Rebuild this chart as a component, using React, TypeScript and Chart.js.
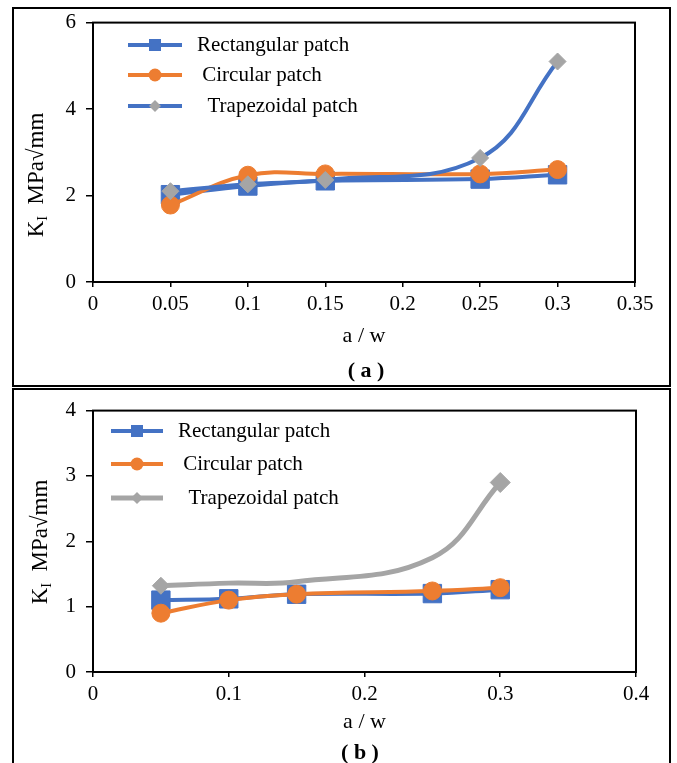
import React, { useEffect, useRef } from "react";
import { Chart, registerables } from "chart.js";

Chart.register(...registerables);

// ---------- data ----------
const X_A = [0.05, 0.1, 0.15, 0.25, 0.3];
const RECT_A = [2.02, 2.22, 2.34, 2.38, 2.48];
const CIRC_A = [1.78, 2.47, 2.5, 2.5, 2.6];
const TRAP_A = [2.1, 2.26, 2.36, 2.87, 5.1];

const X_B = [0.05, 0.1, 0.15, 0.25, 0.3];
const RECT_B = [1.1, 1.12, 1.19, 1.2, 1.26];
const CIRC_B = [0.9, 1.1, 1.19, 1.24, 1.29];
const TRAP_B = [1.32, 1.36, 1.38, 1.75, 2.9];

const X_TICKS_A = [0, 0.05, 0.1, 0.15, 0.2, 0.25, 0.3, 0.35];
const Y_TICKS_A = [0, 2, 4, 6];
const X_TICKS_B = [0, 0.1, 0.2, 0.3, 0.4];
const Y_TICKS_B = [0, 1, 2, 3, 4];

const SERIES_LABELS = ["Rectangular patch", " Circular patch", "  Trapezoidal patch"];
const X_TITLE = "a / w";
const CAPTIONS = ["( a )", "( b )"];

const FONT = "'Times New Roman', 'Liberation Serif', serif";
const BLUE = "#4472C4";
const ORANGE = "#ED7D31";
const GRAY = "#A5A5A5";

// ---------- plugins ----------
const framePlugin = {
  id: "frame",
  beforeDatasetsDraw(chart: any) {
    const { ctx, chartArea } = chart;
    ctx.save();
    ctx.strokeStyle = "#000";
    ctx.lineWidth = 2;
    ctx.strokeRect(chartArea.left, chartArea.top, chartArea.right - chartArea.left, chartArea.bottom - chartArea.top);
    ctx.restore();
  },
};

function drawMarker(ctx: CanvasRenderingContext2D, style: string, x: number, y: number, r: number, color: string) {
  ctx.fillStyle = color;
  ctx.beginPath();
  if (style === "rect") {
    const s = r * Math.SQRT1_2;
    ctx.rect(x - s, y - s, 2 * s, 2 * s);
  } else if (style === "circle") {
    ctx.arc(x, y, r, 0, Math.PI * 2);
  } else {
    ctx.moveTo(x, y - r);
    ctx.lineTo(x + r, y);
    ctx.lineTo(x, y + r);
    ctx.lineTo(x - r, y);
    ctx.closePath();
  }
  ctx.fill();
}

const inLegendPlugin = {
  id: "inLegend",
  afterDraw(chart: any, _args: any, opts: any) {
    const ctx = chart.ctx as CanvasRenderingContext2D;
    chart.data.datasets.forEach((ds: any, i: number) => {
      const y = opts.rows[i];
      ctx.save();
      ctx.strokeStyle = ds.borderColor;
      ctx.lineWidth = ds.borderWidth;
      ctx.beginPath();
      ctx.moveTo(opts.x1, y);
      ctx.lineTo(opts.x2, y);
      ctx.stroke();
      drawMarker(ctx, ds.pointStyle, (opts.x1 + opts.x2) / 2, y, opts.markerR[i], ds.pointBackgroundColor);
      ctx.fillStyle = "#000";
      ctx.font = `21px ${FONT}`;
      ctx.textBaseline = "middle";
      ctx.textAlign = "left";
      ctx.fillText(ds.label, opts.tx, y);
      ctx.restore();
    });
  },
};

function fmt(v: number) {
  return String(Number(Number(v).toFixed(2)));
}

function makeConfig(p: any): any {
  const mk = (label: string, xs: number[], ys: number[], color: string, lineColor: string, style: string, radius: any, bw: number, order: number) => ({
    label,
    data: xs.map((x, i) => ({ x, y: ys[i] })),
    borderColor: lineColor,
    borderWidth: bw,
    backgroundColor: color,
    pointBackgroundColor: color,
    pointBorderColor: color,
    pointBorderWidth: 1,
    pointStyle: style,
    pointRadius: radius,
    tension: 0.4,
    order,
  });
  return {
    type: "line",
    data: {
      datasets: [
        mk(SERIES_LABELS[0], p.xs, p.rect, BLUE, BLUE, "rect", 13, 4, 3),
        mk(SERIES_LABELS[1], p.xs, p.circ, ORANGE, ORANGE, "circle", 9, 4, 2),
        mk(SERIES_LABELS[2], p.xs, p.trap, GRAY, p.trapLine, "rectRot", p.trapRadius, p.trapWidth, 1),
      ],
    },
    options: {
      animation: false,
      responsive: false,
      layout: { padding: { left: 0, right: p.padRight, top: p.padTop, bottom: 0 } },
      plugins: {
        legend: { display: false },
        tooltip: { enabled: false },
        inLegend: p.legend,
      },
      scales: {
        x: {
          type: "linear",
          min: 0,
          max: p.xMax,
          border: { display: false },
          grid: { drawOnChartArea: false, drawTicks: true, tickLength: 5, color: "#000", lineWidth: 1.5 },
          afterBuildTicks: (s: any) => {
            s.ticks = p.xTicks.map((v: number) => ({ value: v }));
          },
          afterFit: (s: any) => {
            s.height = p.xHeight;
          },
          ticks: {
            color: "#000",
            font: { family: FONT, size: 21 },
            padding: 5,
            maxRotation: 0,
            autoSkip: false,
            callback: (v: any) => fmt(v),
          },
          title: {
            display: true,
            text: X_TITLE,
            color: "#000",
            font: { family: FONT, size: 22 },
            padding: { top: 0, bottom: p.xTitlePad },
          },
        },
        y: {
          type: "linear",
          min: 0,
          max: p.yMax,
          border: { display: false },
          grid: { drawOnChartArea: false, drawTicks: true, tickLength: 7, color: "#000", lineWidth: 1.5 },
          afterBuildTicks: (s: any) => {
            s.ticks = p.yTicks.map((v: number) => ({ value: v }));
          },
          afterFit: (s: any) => {
            s.width = 93;
          },
          ticks: {
            color: "#000",
            font: { family: FONT, size: 21 },
            padding: 10,
            callback: (v: any) => fmt(v),
          },
        },
      },
    },
    plugins: [framePlugin, inLegendPlugin],
  };
}

function ChartCanvas({ cfg, width, height, top }: any) {
  const ref = useRef<HTMLCanvasElement | null>(null);
  useEffect(() => {
    if (!ref.current) return;
    const c = new Chart(ref.current, makeConfig(cfg));
    return () => c.destroy();
  }, []);
  return (
    <canvas
      ref={ref}
      width={width}
      height={height}
      style={{ position: "absolute", left: 0, top, width, height }}
    />
  );
}

function YTitle({ cx, cy }: any) {
  return (
    <div
      style={{
        position: "absolute",
        left: cx,
        top: cy,
        transform: "translate(-50%, -50%) rotate(-90deg)",
        whiteSpace: "nowrap",
        fontFamily: FONT,
        fontSize: 23,
        lineHeight: 1,
        color: "#000",
      }}
    >
      K<sub style={{ fontSize: 14, verticalAlign: "-4px" }}>I</sub>
      {"\u00a0\u00a0"}MPa√mm
    </div>
  );
}

function Caption({ cx, cy, text }: any) {
  return (
    <div
      style={{
        position: "absolute",
        left: cx,
        top: cy,
        transform: "translate(-50%, -50%)",
        whiteSpace: "pre",
        fontFamily: FONT,
        fontSize: 22,
        fontWeight: "bold",
        lineHeight: 1,
        color: "#000",
      }}
    >
      {text}
    </div>
  );
}

export default function App() {
  const cfgA = {
    xs: X_A, rect: RECT_A, circ: CIRC_A, trap: TRAP_A,
    trapLine: BLUE, trapRadius: 8.5, trapWidth: 4,
    xMax: 0.35, yMax: 6, xTicks: X_TICKS_A, yTicks: Y_TICKS_A,
    padRight: 42, padTop: 20, xHeight: 104, xTitlePad: 37,
    legend: { x1: 128, x2: 182, rows: [45, 75, 106], tx: 197, markerR: [8.5, 6.5, 6] },
  };
  const cfgB = {
    xs: X_B, rect: RECT_B, circ: CIRC_B, trap: TRAP_B,
    trapLine: GRAY, trapRadius: [8.5, 0, 0, 0, 10], trapWidth: 5,
    xMax: 0.4, yMax: 4, xTicks: X_TICKS_B, yTicks: Y_TICKS_B,
    padRight: 41, padTop: 15, xHeight: 91, xTitlePad: 28,
    legend: { x1: 111, x2: 163, rows: [43, 76, 110], tx: 178, markerR: [8.5, 6.5, 6] },
  };
  return (
    <div style={{ position: "absolute", left: 0, top: 0, width: 677, height: 763, overflow: "hidden", background: "#fff" }}>
      <div style={{ position: "absolute", left: 12, top: 7, width: 659, height: 380, border: "2px solid #000", boxSizing: "border-box" }} />
      <div style={{ position: "absolute", left: 12, top: 388, width: 659, height: 420, border: "2px solid #000", boxSizing: "border-box" }} />
      <ChartCanvas cfg={cfgA} width={677} height={386} top={0} />
      <ChartCanvas cfg={cfgB} width={677} height={375} top={388} />
      <YTitle cx={37} cy={175} />
      <YTitle cx={41} cy={542} />
      <Caption cx={366} cy={370} text={CAPTIONS[0]} />
      <Caption cx={360} cy={752} text={CAPTIONS[1]} />
    </div>
  );
}
